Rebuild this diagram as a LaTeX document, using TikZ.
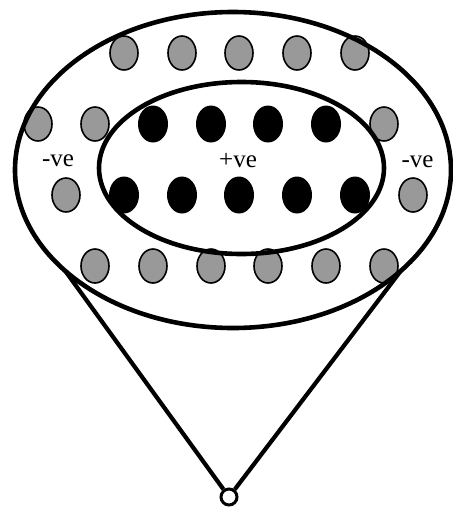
\documentclass[tikz,border=0pt]{standalone}
\usepackage{fontspec}
\setmainfont{Liberation Serif}
\usetikzlibrary{shapes.geometric}
\definecolor{dotgray}{RGB}{153,153,153}
\begin{document}
\begin{tikzpicture}[x=1pt,y=-1pt,
  graydot/.style={ellipse,draw=black,line width=1.6pt,fill=dotgray,minimum width=28pt,minimum height=34pt,inner sep=0pt},
  blackdot/.style={ellipse,fill=black,minimum width=30pt,minimum height=37pt,inner sep=0pt},
  ring/.style={ellipse,draw=black,line width=4.6pt,inner sep=0pt,outer sep=0pt},
  lbl/.style={font=\fontsize{25}{25}\selectfont,anchor=base,inner sep=0pt},
  arm/.style={line width=4.2pt}]
\useasboundingbox (0,0) rectangle (453,507);
% top row
\node[graydot] (g1) at (124,53) {};
\node[graydot] (g2) at (182,53) {};
\node[graydot] (g3) at (239,53) {};
\node[graydot] (g4) at (297,53) {};
\node[graydot] (g5) at (355,53) {};
% second row
\node[graydot] (g6) at (38,124) {};
\node[graydot] (g7) at (95,124) {};
\node[blackdot] (b1) at (153,124) {};
\node[blackdot] (b2) at (211,124) {};
\node[blackdot] (b3) at (268,124) {};
\node[blackdot] (b4) at (326,124) {};
\node[graydot] (g8) at (384,124) {};
% third row
\node[graydot] (g9) at (66,195) {};
\node[blackdot] (b5) at (124,195) {};
\node[blackdot] (b6) at (182,195) {};
\node[blackdot] (b7) at (239,195) {};
\node[blackdot] (b8) at (297,195) {};
\node[blackdot] (b9) at (355,195) {};
\node[graydot] (g10) at (413,195) {};
% bottom row
\node[graydot] (g11) at (95,266) {};
\node[graydot] (g12) at (153,266) {};
\node[graydot] (g13) at (211,266) {};
\node[graydot] (g14) at (268,266) {};
\node[graydot] (g15) at (326,266) {};
\node[graydot] (g16) at (384,266) {};
% rings
\node[ring,minimum width=436pt,minimum height=316pt] (outer) at (233,170) {};
\node[ring,minimum width=285pt,minimum height=172pt] (inner) at (241.5,168) {};
% labels
\node[lbl] (nl) at (58,166) {-ve};
\node[lbl] (pc) at (238,167) {+ve};
\node[lbl] (nr) at (417.5,167) {-ve};
% stem
\node[circle,draw=black,line width=3pt,fill=white,minimum size=16pt,inner sep=0pt] (tip) at (229,497) {};
\draw[arm] (outer.211) -- (tip);
\draw[arm] (outer.329) -- (tip);
\end{tikzpicture}
\end{document}
